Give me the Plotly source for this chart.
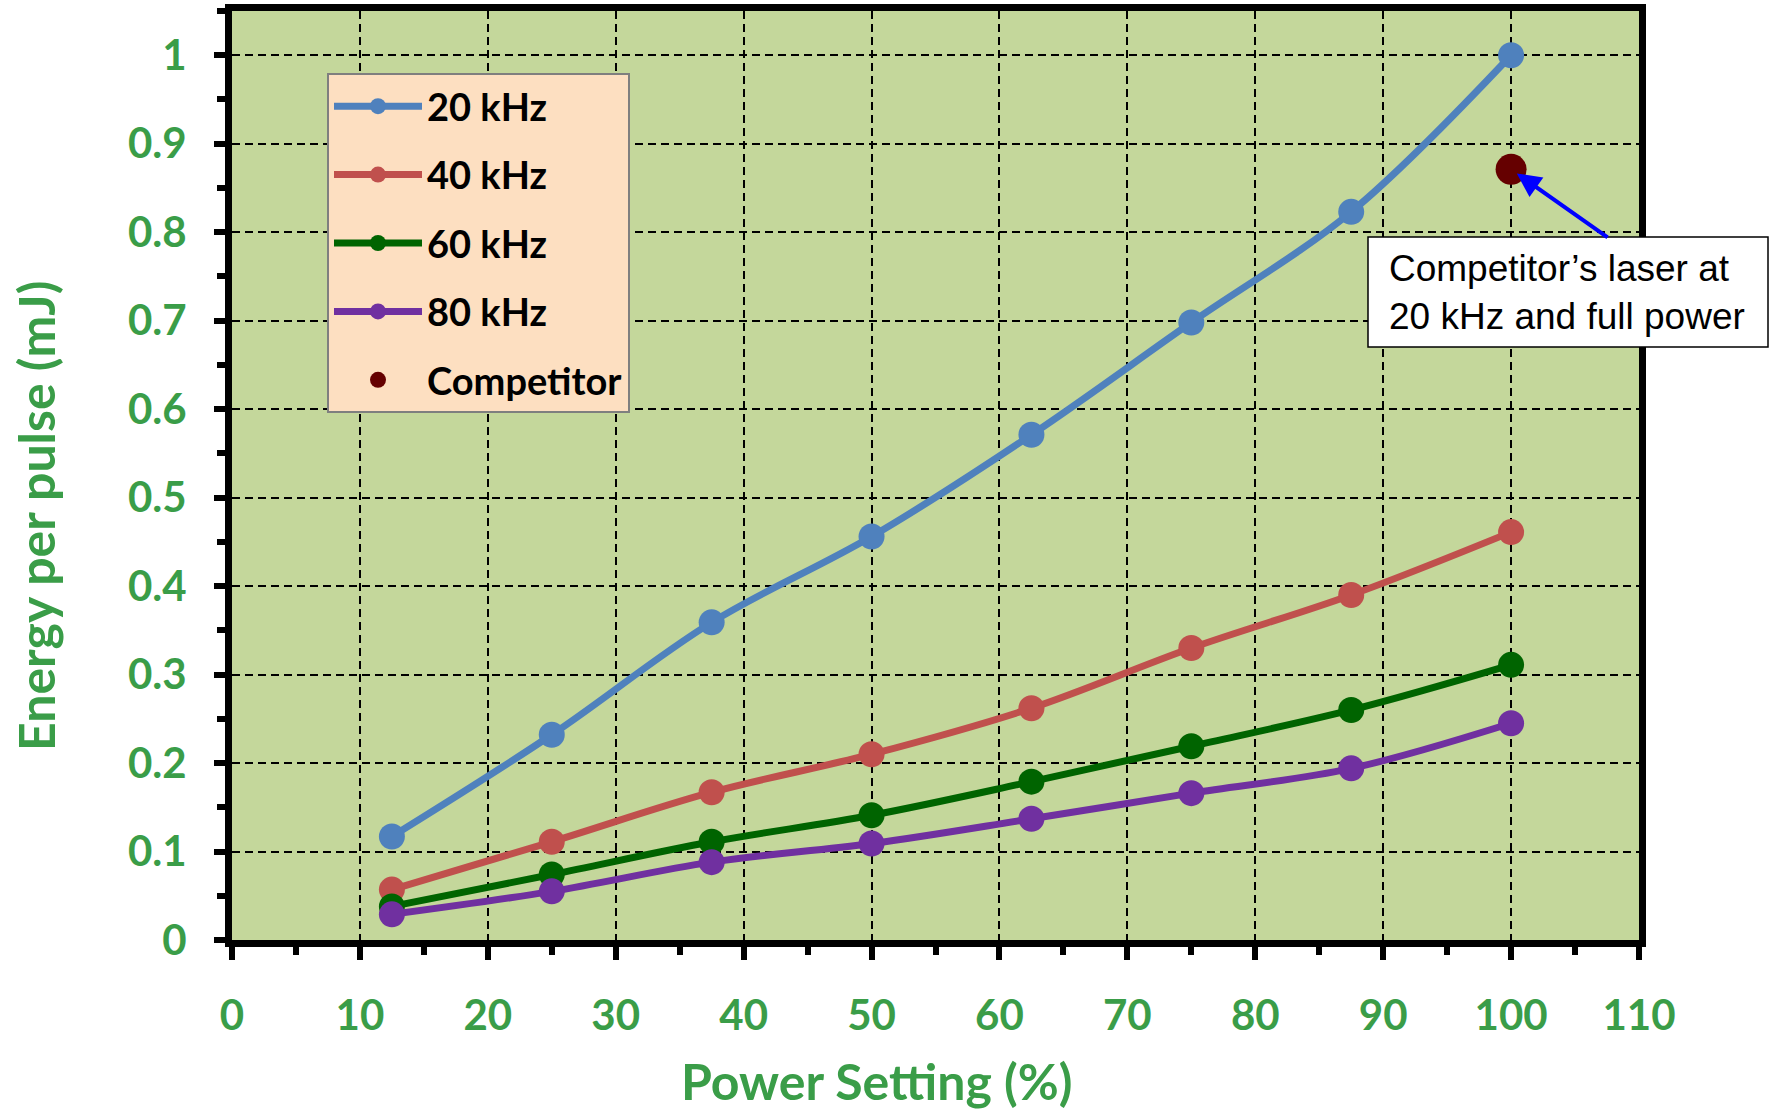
import plotly.graph_objects as go

# ---- data -------------------------------------------------------------
power_pct = [12.5, 25, 37.5, 50, 62.5, 75, 87.5, 100]
energy_20khz = [0.117, 0.232, 0.359, 0.456, 0.571, 0.698, 0.823, 1.000]
energy_40khz = [0.057, 0.111, 0.167, 0.210, 0.262, 0.330, 0.390, 0.461]
energy_60khz = [0.038, 0.074, 0.111, 0.141, 0.179, 0.219, 0.260, 0.311]
energy_80khz = [0.029, 0.055, 0.088, 0.109, 0.137, 0.166, 0.194, 0.245]
series_names = ["20 kHz", "40 kHz", "60 kHz", "80 kHz"]

competitor_name = "Competitor"
competitor_power = [100]
competitor_energy = [0.871]

x_tick_vals = [0, 10, 20, 30, 40, 50, 60, 70, 80, 90, 100, 110]
x_tick_text = ["0", "10", "20", "30", "40", "50", "60", "70", "80", "90", "100", "110"]
y_tick_vals = [0, 0.1, 0.2, 0.3, 0.4, 0.5, 0.6, 0.7, 0.8, 0.9, 1.0]
y_tick_text = ["0", "0.1", "0.2", "0.3", "0.4", "0.5", "0.6", "0.7", "0.8", "0.9", "1"]

x_title = "Power Setting (%)"
y_title = "Energy per pulse (mJ)"
callout_text = "Competitor’s laser at<br>20 kHz and full power"

# ---- styling ----------------------------------------------------------
series_colors = ["#4F81BD", "#C0504D", "#006400", "#7030A0"]
competitor_color = "#650000"
label_green = "#3A9D48"
plot_bg = "#C4D79B"
legend_bg = "#FDDFC1"

W, H = 1772, 1111
ML, MR, MT, MB = 232, 133, 11, 171
PW, PH = W - ML - MR, H - MT - MB


def px_to_paper(px, py):
    """Convert page pixel position to paper coordinates of the plot area."""
    return (px - ML) / PW, (H - MB - py) / PH


energy_series = [energy_20khz, energy_40khz, energy_60khz, energy_80khz]

fig = go.Figure()
for name, values, color in zip(series_names, energy_series, series_colors):
    fig.add_trace(go.Scatter(
        x=power_pct, y=values, name=name, legendgroup=name,
        mode="lines+markers",
        line=dict(color=color, width=7, shape="spline", smoothing=1.0),
        marker=dict(size=26, color=color),
        cliponaxis=False,
    ))

fig.add_trace(go.Scatter(
    x=competitor_power, y=competitor_energy, name=competitor_name,
    legendgroup=competitor_name, mode="markers",
    marker=dict(size=31, color=competitor_color),
    cliponaxis=False,
))

tick_font = dict(family="Lato", size=42, color=label_green, weight="bold")
axis_common = dict(
    showline=True, linecolor="black", linewidth=7, mirror=True,
    ticks="outside", tickcolor="black", tickwidth=6,
    showgrid=True, gridcolor="black", gridwidth=2, griddash="8px,5px",
    zeroline=False, tickfont=tick_font, tickmode="array",
)

fig.update_xaxes(
    **axis_common, range=[0, 110], tickvals=x_tick_vals, ticktext=x_tick_text,
    ticklen=13, ticklabelstandoff=20,
    minor=dict(tick0=0, dtick=5, ticks="outside", ticklen=8, tickwidth=6,
               tickcolor="black", showgrid=False),
)
fig.update_yaxes(
    **axis_common, range=[0, 1.05], tickvals=y_tick_vals, ticktext=y_tick_text,
    ticklen=11, ticklabelstandoff=19,
    minor=dict(tick0=0, dtick=0.05, ticks="outside", ticklen=8, tickwidth=6,
               tickcolor="black", showgrid=False),
)

# axis titles
title_font = dict(family="Lato", size=50, color=label_green, weight="bold")
xt_x, xt_y = px_to_paper(876, 1081)
yt_x, yt_y = px_to_paper(36, 516)
annotations = [
    dict(text=x_title, xref="paper", yref="paper", x=xt_x, y=xt_y,
         xanchor="center", yanchor="middle", showarrow=False, font=title_font),
    dict(text=y_title, xref="paper", yref="paper", x=yt_x, y=yt_y,
         xanchor="center", yanchor="middle", showarrow=False, font=title_font,
         textangle=-90),
]

# callout box with arrow to the competitor point
bx0, by0 = px_to_paper(1368, 347)
bx1, by1 = px_to_paper(1768, 237)
shapes = [dict(type="rect", xref="paper", yref="paper", x0=bx0, x1=bx1,
               y0=by0, y1=by1, fillcolor="white",
               line=dict(color="black", width=1.5), layer="above")]
tx, ty = px_to_paper(1387, 292)
annotations.append(dict(
    text=callout_text, xref="paper", yref="paper", x=tx, y=ty,
    xanchor="left", yanchor="middle", align="left", showarrow=False,
    font=dict(family="Liberation Sans, Arial", size=37, color="black"),
))
annotations.append(dict(
    text="", x=competitor_power[0], y=competitor_energy[0], xref="x", yref="y",
    showarrow=True, ax=98, ay=69, axref="pixel", ayref="pixel",
    arrowcolor="#0000FF", arrowwidth=4, arrowhead=2, arrowsize=1.2,
    standoff=7,
))

lx, ly = px_to_paper(327, 73)
fig.update_layout(
    width=W, height=H,
    margin=dict(l=ML, r=MR, t=MT, b=MB, autoexpand=False),
    paper_bgcolor="white", plot_bgcolor=plot_bg,
    showlegend=True,
    legend=dict(
        x=lx, y=ly, xanchor="left", yanchor="top",
        bgcolor=legend_bg, bordercolor="#7F7F7F", borderwidth=2,
        font=dict(family="Lato", size=38, color="black", weight="bold"),
        tracegroupgap=16, itemwidth=88,
    ),
    annotations=annotations,
    shapes=shapes,
)

fig.write_html("out.html")
